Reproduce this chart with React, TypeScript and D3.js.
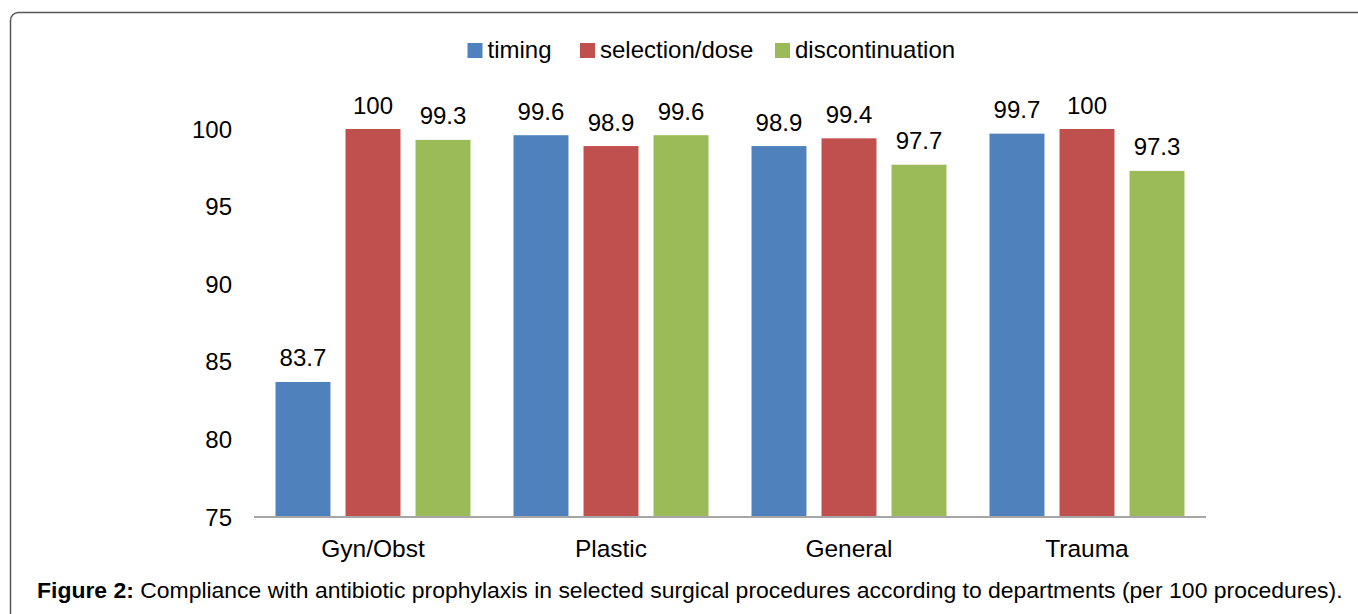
import React from "react";
import * as d3 from "d3";

const categories = ["Gyn/Obst", "Plastic", "General", "Trauma"];
const seriesNames = ["timing", "selection/dose", "discontinuation"];
const timing = [83.7, 99.6, 98.9, 99.7];
const selectionDose = [100, 98.9, 99.4, 100];
const discontinuation = [99.3, 99.6, 97.7, 97.3];
const yTicks = [75, 80, 85, 90, 95, 100];
const colors = ["#4F81BD", "#C0504D", "#9BBB59"];

const W = 1358;
const H = 614;
const FONT = "'Liberation Sans', Arial, sans-serif";

export default function App() {
  const series = [timing, selectionDose, discontinuation];
  const x0 = d3.scaleBand().domain(categories).range([254, 1206]).paddingInner(0).paddingOuter(0);
  const x1 = d3
    .scaleBand()
    .domain(seriesNames)
    .range([21.5, x0.bandwidth() - 21.5])
    .paddingInner(0.215)
    .paddingOuter(0);
  const y = d3.scaleLinear().domain([75, 100]).range([517, 129]);

  const legendItems = [
    { name: seriesNames[0], x: 467.5 },
    { name: seriesNames[1], x: 580 },
    { name: seriesNames[2], x: 775 },
  ];

  return (
    <svg
      width={W}
      height={H}
      style={{ position: "absolute", left: 0, top: 0, display: "block", background: "#fff" }}
      fontFamily={FONT}
    >
      <rect x={10.5} y={12.5} width={1500} height={800} rx={8} fill="none" stroke="#555" strokeWidth={1.5} />

      {/* legend */}
      {legendItems.map((it, i) => (
        <g key={it.name}>
          <rect x={it.x} y={43} width={15} height={15} fill={colors[i]} />
          <text x={it.x + 20} y={58} fontSize={24} fill="#000">
            {it.name}
          </text>
        </g>
      ))}

      {/* y tick labels */}
      {yTicks.map((t) => (
        <text key={t} x={232} y={y(t) + 8.5} fontSize={24} textAnchor="end" fill="#000">
          {t}
        </text>
      ))}

      {/* bars */}
      {categories.map((c, ci) => (
        <g key={c} transform={`translate(${x0(c)},0)`}>
          {series.map((s, si) => {
            const bx = x1(seriesNames[si]) as number;
            const v = s[ci];
            return (
              <g key={si}>
                <rect x={bx} y={y(v)} width={x1.bandwidth()} height={y(75) - y(v)} fill={colors[si]} />
                <text
                  x={bx + x1.bandwidth() / 2}
                  y={y(v) - 15.5}
                  fontSize={24}
                  textAnchor="middle"
                  fill="#000"
                >
                  {v}
                </text>
              </g>
            );
          })}
          <text x={x0.bandwidth() / 2} y={557} fontSize={24.5} textAnchor="middle" fill="#000">
            {c}
          </text>
        </g>
      ))}

      {/* x axis line */}
      <line x1={254} x2={1206} y1={517} y2={517} stroke="#A6A6A6" strokeWidth={2} />

      {/* caption */}
      <text x={37} y={598} fontSize={22.95} fill="#000">
        <tspan fontWeight="bold">Figure 2:</tspan>
        <tspan> Compliance with antibiotic prophylaxis in selected surgical procedures according to departments (per 100 procedures).</tspan>
      </text>
    </svg>
  );
}
